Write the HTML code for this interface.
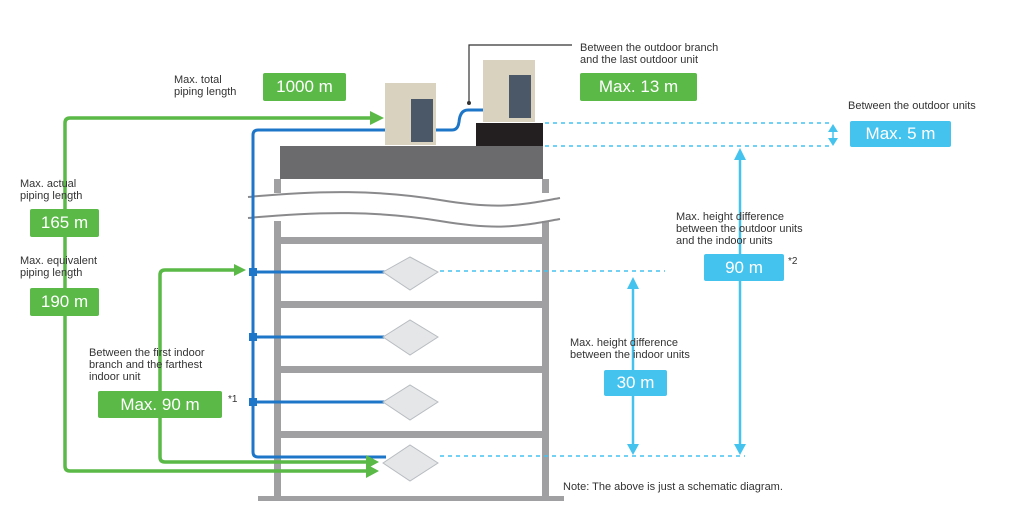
<!DOCTYPE html>
<html><head><meta charset="utf-8"><style>
body{margin:0;background:#fff;width:1024px;height:523px;overflow:hidden;position:relative;font-family:"Liberation Sans",sans-serif}
.t{position:absolute;font-size:11px;line-height:12px;color:#333}
.g,.c{position:absolute;color:#fff;font-size:17px;text-align:center;border-radius:2px}
.g{background:#5ab947}.c{background:#45c3ef}
</style></head><body>
<svg width="1024" height="523" style="position:absolute;left:0;top:0">
<!-- building -->
<rect x="274" y="179" width="7" height="320" fill="#a0a0a3"/>
<rect x="542" y="179" width="7" height="320" fill="#a0a0a3"/>
<rect x="258" y="496" width="306" height="5" fill="#a0a0a3"/>
<rect x="280" y="146" width="263" height="33" fill="#6b6b6e"/>
<rect x="476" y="123" width="67" height="23" fill="#231f20"/>
<rect x="248" y="193" width="310" height="28" fill="#fff"/>
<path d="M248,197 C320,190 380,190 440,200 S520,205 560,198" stroke="#8a8a8d" stroke-width="2" fill="none"/>
<path d="M248,218 C320,211 380,211 440,221 S520,226 560,219" stroke="#8a8a8d" stroke-width="2" fill="none"/>
<rect x="280" y="237" width="263" height="7" fill="#a0a0a3"/>
<rect x="280" y="301" width="263" height="7" fill="#a0a0a3"/>
<rect x="280" y="366" width="263" height="7" fill="#a0a0a3"/>
<rect x="280" y="431" width="263" height="7" fill="#a0a0a3"/>
<!-- outdoor units -->
<rect x="385" y="83" width="51" height="62" fill="#d8d2bf"/><rect x="411" y="99" width="22" height="43" fill="#4a5868"/>
<rect x="483" y="60" width="52" height="62" fill="#d8d2bf"/><rect x="509" y="75" width="22" height="43" fill="#4a5868"/>
<!-- leader -->
<path d="M469,103 V45 H572" stroke="#333" stroke-width="1.2" fill="none"/><circle cx="469" cy="103" r="2" fill="#333"/>
<!-- blue pipe -->
<path d="M385,130 H258 Q253,130 253,135 V452 Q253,457 258,457 H386" stroke="#1d76c7" stroke-width="3" fill="none"/>
<path d="M436,130 H452 Q458,130 459,122 Q460,110 468,110 H483" stroke="#1d76c7" stroke-width="3" fill="none"/>
<path d="M253,272 H386 M253,337 H386 M253,402 H386" stroke="#1d76c7" stroke-width="3"/>
<rect x="249" y="268" width="8" height="8" fill="#1d76c7"/><rect x="249" y="333" width="8" height="8" fill="#1d76c7"/><rect x="249" y="398" width="8" height="8" fill="#1d76c7"/>
<!-- cassettes -->
<g fill="#e4e6e8" stroke="#b8bcc0" stroke-width="1">
<path d="M383,272 L410,257 L438,272 L410,290z"/><path d="M383,337 L410,320 L438,337 L410,355z"/>
<path d="M383,402 L410,385 L438,402 L410,420z"/><path d="M383,463 L410,445 L438,463 L410,481z"/>
</g>
<!-- green -->
<path d="M372,118 H70 Q65,118 65,123 V466 Q65,471 70,471 H368" stroke="#5ab947" stroke-width="3.5" fill="none"/>
<path d="M236,270 H165 Q160,270 160,275 V457 Q160,462 165,462 H368" stroke="#5ab947" stroke-width="3.5" fill="none"/>
<g fill="#5ab947">
<path d="M370,111 L384,118 L370,125z"/><path d="M366,464 L379,471 L366,478z"/>
<path d="M366,455 L379,462 L366,469z"/><path d="M234,264 L246,270 L234,276z"/>
</g>
<!-- cyan dashed -->
<g stroke="#45c3ef" stroke-width="1.5" stroke-dasharray="4,4">
<path d="M545,123 H830 M545,146 H830 M440,271 H665 M440,456 H745"/></g>
<g stroke="#45c3ef" stroke-width="2.5">
<path d="M740,158 V446"/><path d="M633,287 V446"/><path d="M833,130 V140" stroke-width="1.5"/>
</g>
<g fill="#45c3ef">
<path d="M734,160 L740,148 L746,160z"/><path d="M734,444 L740,455 L746,444z"/>
<path d="M627,289 L633,277 L639,289z"/><path d="M627,444 L633,455 L639,444z"/>
<path d="M828,132 L833,124 L838,132z"/><path d="M828,138 L833,146 L838,138z"/>
</g>
</svg>
<div class="t" style="left:174px;top:74px">Max. total<br>piping length</div>
<div class="g" style="left:263px;top:73px;width:83px;height:28px;line-height:28px">1000 m</div>
<div class="t" style="left:580px;top:42px">Between the outdoor branch<br>and the last outdoor unit</div>
<div class="g" style="left:580px;top:73px;width:117px;height:28px;line-height:28px">Max. 13 m</div>
<div class="t" style="left:848px;top:100px">Between the outdoor units</div>
<div class="c" style="left:850px;top:121px;width:101px;height:26px;line-height:26px">Max. 5 m</div>
<div class="t" style="left:20px;top:178px">Max. actual<br>piping length</div>
<div class="g" style="left:30px;top:209px;width:69px;height:28px;line-height:28px">165 m</div>
<div class="t" style="left:20px;top:255px">Max. equivalent<br>piping length</div>
<div class="g" style="left:30px;top:288px;width:69px;height:28px;line-height:28px">190 m</div>
<div class="t" style="left:89px;top:347px">Between the first indoor<br>branch and the farthest<br>indoor unit</div>
<div class="g" style="left:98px;top:391px;width:124px;height:27px;line-height:27px">Max. 90 m</div>
<div class="t" style="left:228px;top:394px;font-size:10px">*1</div>
<div class="t" style="left:676px;top:211px">Max. height difference<br>between the outdoor units<br>and the indoor units</div>
<div class="c" style="left:704px;top:254px;width:80px;height:27px;line-height:27px">90 m</div>
<div class="t" style="left:788px;top:256px;font-size:10px">*2</div>
<div class="t" style="left:570px;top:337px">Max. height difference<br>between the indoor units</div>
<div class="c" style="left:604px;top:370px;width:63px;height:26px;line-height:26px">30 m</div>
<div class="t" style="left:563px;top:481px">Note: The above is just a schematic diagram.</div>
</body></html>
